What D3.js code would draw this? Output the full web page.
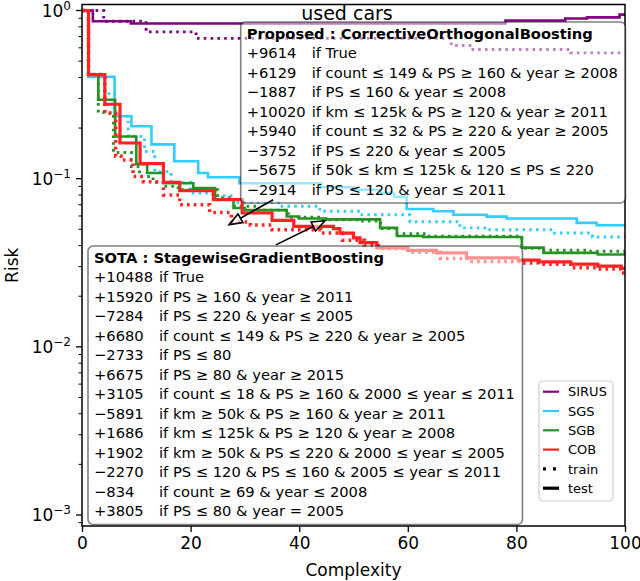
<!DOCTYPE html>
<html>
<head>
<meta charset="utf-8">
<script src="https://cdn.jsdelivr.net/npm/d3@7"></script>
<style>
body { margin: 0; background: #fff; }
text { font-family: "DejaVu Sans", sans-serif; fill: #000; }
</style>
</head>
<body>
<svg id="chart" width="640" height="581"></svg>
<script>
// ---- data ----
const complexityTicks = [0, 20, 40, 60, 80, 100];
const riskDecades = [0, -1, -2, -3];
const modelNames = ["SIRUS", "SGS", "SGB", "COB"];

// [complexity, risk] step points (step-after)
const sirusTest = [[0,1],[2,0.864],[9,0.837],[78,0.872],[89,0.896],[93,0.91],[99,0.946],[100,0.946]];
const sirusTrain = [[0,1],[4,0.864],[11.8,0.746],[21,0.683],[68,0.62],[72,0.586],[90,0.56],[100,0.56]];
const sgsTest = [[0,1],[1.2,0.403],[6,0.235],[9.1,0.205],[12.8,0.16],[17,0.127],[21.4,0.108],[23.2,0.102],[29,0.094],[44,0.089],[50,0.086],[55,0.082],[57.5,0.078],[59.8,0.066],[64.7,0.064],[68.4,0.061],[74.5,0.0595],[78.2,0.058],[91.1,0.0546],[94.8,0.0528],[100,0.0528]];
const sgsTrain = [[0,1],[1.2,0.416],[4.2,0.32],[6,0.235],[8.5,0.178],[11.5,0.145],[13.4,0.11],[16.4,0.095],[20,0.082],[24,0.079],[28,0.072],[36.5,0.0685],[43.8,0.064],[51.2,0.061],[60.4,0.0555],[69.6,0.051],[74.5,0.0497],[87,0.0475],[94,0.045],[100,0.045]];
const sgbTest = [[0,1],[1.2,0.416],[3,0.295],[6.1,0.178],[10,0.122],[12,0.108],[15,0.094],[20.5,0.088],[24.5,0.075],[27.9,0.067],[30,0.065],[37.7,0.0596],[40,0.058],[45,0.0573],[54.9,0.051],[58,0.0456],[62.8,0.045],[81,0.0389],[85,0.0362],[95,0.0354],[100,0.0354]];
const sgbTrain = [[0,1],[1.2,0.416],[3,0.247],[5.8,0.143],[9.1,0.118],[10.6,0.103],[13.1,0.095],[15.2,0.09],[17.7,0.086],[25,0.077],[28.1,0.0685],[32.4,0.065],[38,0.059],[44,0.057],[51,0.056],[55,0.0505],[58,0.047],[63,0.0455],[81,0.0385],[85,0.0375],[93,0.037],[100,0.0365]];
const cobTest = [[0,1],[1.2,0.416],[4.2,0.277],[7,0.163],[10.7,0.123],[15,0.095],[18,0.085],[24.2,0.075],[29.5,0.0625],[35,0.0565],[39,0.052],[46.3,0.0505],[47.5,0.0475],[50,0.0445],[51.2,0.0417],[54.3,0.0388],[60,0.0375],[65.3,0.0362],[70.8,0.0338],[80.3,0.0328],[84.2,0.032],[90,0.031],[95,0.0302],[99.3,0.0293],[100,0.0293]];
const cobTrain = [[0,1],[1.2,0.416],[4.2,0.245],[6.2,0.136],[7.2,0.129],[9.4,0.103],[11.3,0.096],[15,0.080],[18,0.070],[23.5,0.063],[27.5,0.0553],[31,0.053],[35,0.0497],[44,0.0475],[48,0.043],[52,0.040],[55,0.0385],[60,0.0365],[66,0.0335],[71,0.0322],[80.5,0.0315],[84,0.031],[90,0.0295],[95,0.029],[99.3,0.0275],[100,0.0275]];

const proposedTitle = "Proposed : CorrectiveOrthogonalBoosting";
const proposedWeights = ["+9614", "+6129", "\u22121887", "+10020", "+5940", "\u22123752", "\u22125675", "\u22122914"];
const proposedRules = [
	"if True",
	"if count \u2264 149 & PS \u2265 160 & year \u2265 2008",
	"if PS \u2264 160 & year \u2264 2008",
	"if km \u2264 125k & PS \u2265 120 & year \u2265 2011",
	"if count \u2264 32 & PS \u2265 220 & year \u2265 2005",
	"if PS \u2264 220 & year \u2264 2005",
	"if 50k \u2264 km \u2264 125k & 120 \u2264 PS \u2264 220",
	"if PS \u2264 120 & year \u2264 2011"
];
const sotaTitle = "SOTA : StagewiseGradientBoosting";
const sotaWeights = ["+10488", "+15920", "\u22127284", "+6680", "\u22122733", "+6675", "+3105", "\u22125891", "+1686", "+1902", "\u22122270", "\u2212834", "+3805"];
const sotaRules = [
	"if True",
	"if PS \u2265 160 & year \u2265 2011",
	"if PS \u2264 220 & year \u2264 2005",
	"if count \u2264 149 & PS \u2265 220 & year \u2265 2005",
	"if PS \u2264 80",
	"if PS \u2265 80 & year \u2265 2015",
	"if count \u2264 18 & PS \u2265 160 & 2000 \u2264 year \u2264 2011",
	"if km \u2265 50k & PS \u2265 160 & year \u2265 2011",
	"if km \u2264 125k & PS \u2265 120 & year \u2265 2008",
	"if km \u2265 50k & PS \u2264 220 & 2000 \u2264 year \u2264 2005",
	"if PS \u2264 120 & PS \u2264 160 & 2005 \u2264 year \u2264 2011",
	"if count \u2265 69 & year \u2264 2008",
	"if PS \u2264 80 & year = 2005"
];

// annotation arrows, in data coordinates: [complexity, risk]
const proposedArrow = [[35.2, 0.075], [27.1, 0.0533]];
const sotaArrow = [[35.7, 0.0404], [44.75, 0.0562]];

// ---- layout ----
const colors = {SIRUS: "#800080", SGS: "#33ccff", SGB: "#249324", COB: "#ff2222"};
const plot = {left: 82, right: 625, top: 4.5, bottom: 526};

const svg = d3.select("#chart");
svg.append("rect").attr("width", 640).attr("height", 581).attr("fill", "#fff");

const x = d3.scaleLinear().domain([0, 100]).range([plot.left, plot.right]);
const y = d3.scaleLog().domain([8.6e-4, 1.086]).range([plot.bottom, plot.top]);

svg.append("clipPath").attr("id", "plot-clip").append("rect")
	.attr("x", plot.left).attr("y", plot.top)
	.attr("width", plot.right - plot.left).attr("height", plot.bottom - plot.top);

/*
* Step curves, test solid and train dotted
*/
const line = d3.line().x(d => x(d[0])).y(d => y(d[1])).curve(d3.curveStepAfter);
const curves = svg.append("g").attr("clip-path", "url(#plot-clip)");
const seriesList = [
	["SIRUS", sirusTest, sirusTrain],
	["SGS", sgsTest, sgsTrain],
	["SGB", sgbTest, sgbTrain],
	["COB", cobTest, cobTrain]
];
seriesList.forEach(s => {
	let w = s[0] == "COB" ? 3.2 : 2.6;
	curves.append("path").attr("d", line(s[2])).attr("fill", "none")
		.attr("stroke", colors[s[0]]).attr("stroke-width", w + 0.3)
		.attr("stroke-dasharray", "2.6,4.2");
	curves.append("path").attr("d", line(s[1])).attr("fill", "none")
		.attr("stroke", colors[s[0]]).attr("stroke-width", w);
});

/*
* Axes
*/
const xAxis = svg.append("g").attr("transform", "translate(0," + plot.bottom + ")")
	.call(d3.axisBottom(x).tickValues(complexityTicks).tickSize(6).tickPadding(5));
xAxis.select(".domain").remove();
xAxis.selectAll(".tick line").attr("stroke-width", 1.3);
xAxis.selectAll(".tick text").attr("font-size", 17).attr("font-family", "DejaVu Sans").attr("fill", "#000");

const minorTicks = [];
for (let k = -4; k <= 0; k++) {
	for (let m = 2; m <= 9; m++) {
		let v = m * Math.pow(10, k);
		if (v >= y.domain()[0] && v <= y.domain()[1]) minorTicks.push(v);
	}
}
const yAxis = svg.append("g").attr("transform", "translate(" + plot.left + ",0)");
yAxis.selectAll(".minor").data(minorTicks).enter().append("line")
	.attr("x1", -3.5).attr("x2", 0).attr("y1", d => y(d)).attr("y2", d => y(d))
	.attr("stroke", "#000").attr("stroke-width", 1);
yAxis.selectAll(".major").data(riskDecades).enter().append("line")
	.attr("x1", -6).attr("x2", 0).attr("y1", d => y(Math.pow(10, d))).attr("y2", d => y(Math.pow(10, d)))
	.attr("stroke", "#000").attr("stroke-width", 1.3);
const yLabels = yAxis.selectAll(".ylab").data(riskDecades).enter().append("text")
	.attr("x", -11).attr("y", d => y(Math.pow(10, d)) + 6)
	.attr("text-anchor", "end").attr("font-size", 17);
yLabels.append("tspan").text("10");
yLabels.append("tspan").attr("dy", -7).attr("font-size", 12)
	.text(d => d == 0 ? "0" : "\u2212" + (-d));

svg.append("rect").attr("x", plot.left).attr("y", plot.top)
	.attr("width", plot.right - plot.left).attr("height", plot.bottom - plot.top)
	.attr("fill", "none").attr("stroke", "#000").attr("stroke-width", 1.5);

svg.append("text").attr("x", (plot.left + plot.right) / 2).attr("y", 576)
	.attr("text-anchor", "middle").attr("font-size", 17).text("Complexity");
svg.append("text").attr("transform", "translate(18," + ((plot.top + plot.bottom) / 2) + ") rotate(-90)")
	.attr("text-anchor", "middle").attr("font-size", 17).text("Risk");
svg.append("text").attr("x", 347).attr("y", 19.5)
	.attr("text-anchor", "middle").attr("font-size", 19).text("used cars");

/*
* Rule boxes (semi transparent, like a matplotlib bbox)
*/
function ruleBox(left, baseline, title, weights, rules) {
	let g = svg.append("g");
	let box = g.append("rect");
	let fs = 14.7, step = 19.5;
	g.append("text").attr("x", left).attr("y", baseline)
		.attr("font-size", fs).attr("font-weight", "bold").text(title);
	weights.forEach((w, i) => {
		g.append("text").attr("x", left).attr("y", baseline + (i + 1) * step)
			.attr("font-size", fs).text(w);
		g.append("text").attr("x", left + 65).attr("y", baseline + (i + 1) * step)
			.attr("font-size", fs).text(rules[i]);
	});
	let bb = g.node().getBBox();
	box.attr("x", bb.x - 6).attr("y", bb.y - 2.5)
		.attr("width", bb.width + 13.5).attr("height", bb.height + 8)
		.attr("rx", 5).attr("ry", 5)
		.attr("fill", "#fff").attr("fill-opacity", 0.5)
		.attr("stroke", "#000").attr("stroke-opacity", 0.5).attr("stroke-width", 1.6);
}
ruleBox(246.7, 38.5, proposedTitle, proposedWeights, proposedRules);
ruleBox(94, 262.5, sotaTitle, sotaWeights, sotaRules);

/*
* Arrows pointing at the two curves
*/
function arrow(pts) {
	let x0 = x(pts[0][0]), y0 = y(pts[0][1]), x1 = x(pts[1][0]), y1 = y(pts[1][1]);
	let a = Math.atan2(y1 - y0, x1 - x0), len = 13, half = 5;
	let bx = x1 - len * Math.cos(a), by = y1 - len * Math.sin(a);
	svg.append("line").attr("x1", x0).attr("y1", y0).attr("x2", bx).attr("y2", by)
		.attr("stroke", "#000").attr("stroke-width", 1.6);
	let head = [[x1, y1],
		[bx + half * Math.sin(a), by - half * Math.cos(a)],
		[bx - half * Math.sin(a), by + half * Math.cos(a)]];
	svg.append("path").attr("d", "M" + head.join("L") + "Z")
		.attr("fill", "#fff").attr("fill-opacity", 0.6).attr("stroke", "#000").attr("stroke-width", 1.6);
}
arrow(proposedArrow);
arrow(sotaArrow);

/*
* Legend, lower right
*/
const legend = svg.append("g");
const legendRows = modelNames.concat(["train", "test"]);
legend.append("rect").attr("x", 539).attr("y", 381).attr("width", 74).attr("height", 120)
	.attr("rx", 4).attr("fill", "#fff").attr("fill-opacity", 0.8)
	.attr("stroke", "#ccc").attr("stroke-width", 1.2);
legendRows.forEach((name, i) => {
	let ly = 391.7 + i * 19.3;
	let h = legend.append("line").attr("x1", 543).attr("x2", 559).attr("y1", ly).attr("y2", ly);
	if (i < 4) h.attr("stroke", colors[name]).attr("stroke-width", 2.2);
	else if (name == "train") h.attr("stroke", "#000").attr("stroke-width", 3.2).attr("stroke-dasharray", "3,7");
	else h.attr("stroke", "#000").attr("stroke-width", 3.2);
	legend.append("text").attr("x", 568).attr("y", ly + 4.7).attr("font-size", 13).text(name);
});
</script>
</body>
</html>
